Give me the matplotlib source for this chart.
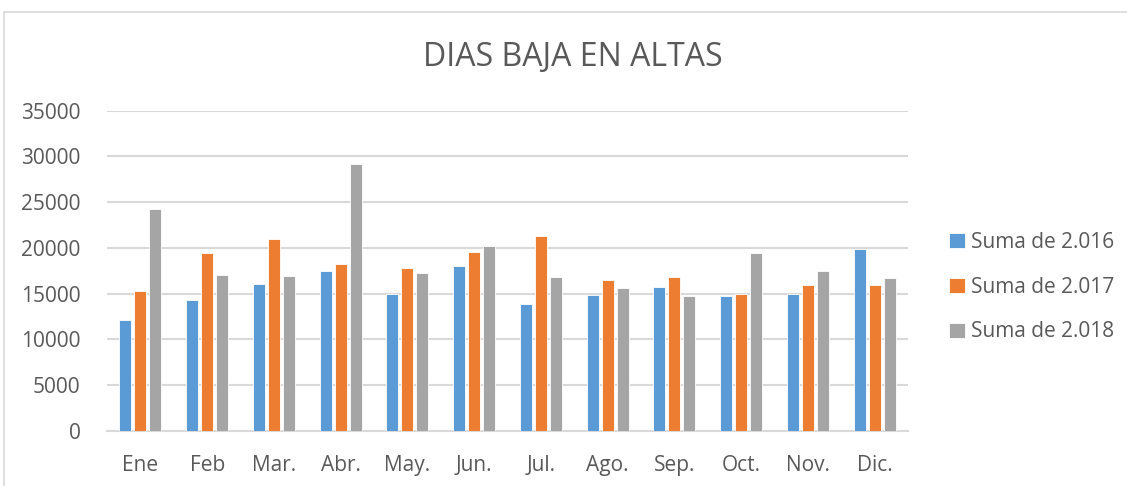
import matplotlib
matplotlib.use("Agg")
import matplotlib.pyplot as plt
import numpy as np
from matplotlib.lines import Line2D

months = ["Ene", "Feb", "Mar.", "Abr.", "May.", "Jun.", "Jul.", "Ago.", "Sep.", "Oct.", "Nov.", "Dic."]
series_names = ["Suma de 2.016", "Suma de 2.017", "Suma de 2.018"]
v2016 = [12100, 14300, 16050, 17450, 14950, 18050, 13850, 14900, 15700, 14700, 15000, 19900]
v2017 = [15250, 19400, 21000, 18300, 17800, 19600, 21300, 16500, 16800, 15000, 16000, 16000]
v2018 = [24250, 17050, 16950, 29200, 17300, 20200, 16850, 15650, 14750, 19450, 17500, 16700]
yticks = [0, 5000, 10000, 15000, 20000, 25000, 30000, 35000]

colors = ["#5B9BD5", "#ED7D31", "#A5A5A5"]
text_color = "#595959"
plt.rcParams['font.family'] = ['Open Sans', 'DejaVu Sans']

fig = plt.figure(figsize=(11.27, 4.86), dpi=100)
ax = fig.add_axes([107/1127, 55/486, (908-107)/1127, (431-110.7)/486])

x = np.arange(len(months))
width = 0.18
step = 0.225
for i, (vals, c, name) in enumerate(zip([v2016, v2017, v2018], colors, series_names)):
    ax.bar(x + (i - 1) * step, vals, width=width, color=c, label=name,
           edgecolor="white", linewidth=0.6, zorder=3)

ax.set_xlim(-0.5, len(months) - 0.5)
ax.set_ylim(0, 35000)
ax.set_yticks(yticks)
ax.set_yticklabels([str(t) for t in yticks])
ax.set_xticks(x)
ax.set_xticklabels(months)
ax.grid(axis="y", color="#D9D9D9", linewidth=1.5, zorder=0)
ax.set_axisbelow(True)
for s in ["top", "right", "left"]:
    ax.spines[s].set_visible(False)
ax.spines["bottom"].set_color("#D9D9D9")
ax.spines["bottom"].set_linewidth(1.5)
ax.tick_params(axis="both", length=0, labelsize=15, colors=text_color)
ax.tick_params(axis="y", pad=19)
ax.tick_params(axis="x", pad=17)

fig.text(573/1127, 1 - 57/486, "DIAS BAJA EN ALTAS", ha="center", va="center",
         fontsize=23, color=text_color)

leg = fig.legend(loc="center left", bbox_to_anchor=(949/1127, 1 - 287/486),
                 frameon=False, fontsize=15, handlelength=0.75, handleheight=0.75,
                 handletextpad=0.3, labelspacing=1.15, borderpad=0, borderaxespad=0)
for t in leg.get_texts():
    t.set_color(text_color)

# chart border (partially cropped)
fig.add_artist(Line2D([4/1127, 1.0], [1 - 12/486, 1 - 12/486], color="#D9D9D9", linewidth=1.2,
                      transform=fig.transFigure))
fig.add_artist(Line2D([4/1127, 4/1127], [0, 1 - 12/486], color="#D9D9D9", linewidth=1.2,
                      transform=fig.transFigure))

fig.savefig("out.png", dpi=100)
